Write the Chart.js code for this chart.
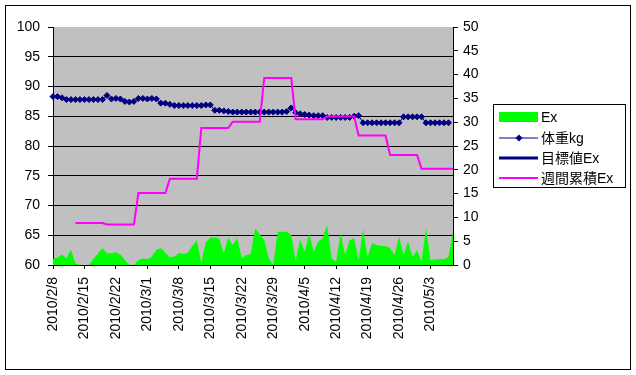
<!DOCTYPE html>
<html>
<head>
<meta charset="utf-8">
<script src="https://cdn.jsdelivr.net/npm/chart.js@4/dist/chart.umd.min.js"></script>
<style>
  body { margin: 0; background: #ffffff; }
  #wrap { width: 636px; height: 375px; }
</style>
</head>
<body>
<div id="wrap"><canvas id="weight-chart" width="636" height="375"></canvas></div>
<script>
//Dates (one point per day)
var dates = [
  "2010/2/8", "2010/2/9", "2010/2/10", "2010/2/11", "2010/2/12", "2010/2/13", "2010/2/14",
  "2010/2/15", "2010/2/16", "2010/2/17", "2010/2/18", "2010/2/19", "2010/2/20", "2010/2/21",
  "2010/2/22", "2010/2/23", "2010/2/24", "2010/2/25", "2010/2/26", "2010/2/27", "2010/2/28",
  "2010/3/1", "2010/3/2", "2010/3/3", "2010/3/4", "2010/3/5", "2010/3/6", "2010/3/7",
  "2010/3/8", "2010/3/9", "2010/3/10", "2010/3/11", "2010/3/12", "2010/3/13", "2010/3/14",
  "2010/3/15", "2010/3/16", "2010/3/17", "2010/3/18", "2010/3/19", "2010/3/20", "2010/3/21",
  "2010/3/22", "2010/3/23", "2010/3/24", "2010/3/25", "2010/3/26", "2010/3/27", "2010/3/28",
  "2010/3/29", "2010/3/30", "2010/3/31", "2010/4/1", "2010/4/2", "2010/4/3", "2010/4/4",
  "2010/4/5", "2010/4/6", "2010/4/7", "2010/4/8", "2010/4/9", "2010/4/10", "2010/4/11",
  "2010/4/12", "2010/4/13", "2010/4/14", "2010/4/15", "2010/4/16", "2010/4/17", "2010/4/18",
  "2010/4/19", "2010/4/20", "2010/4/21", "2010/4/22", "2010/4/23", "2010/4/24", "2010/4/25",
  "2010/4/26", "2010/4/27", "2010/4/28", "2010/4/29", "2010/4/30", "2010/5/1", "2010/5/2",
  "2010/5/3", "2010/5/4", "2010/5/5", "2010/5/6", "2010/5/7", "2010/5/8"
];

//Ex per day (right axis)
var exValues = [
  1.2, 1.6, 2.2, 1.4, 3.2, 0.3, 0, 0, 0, 1.3,
  2.4, 3.5, 2.5, 2.4, 2.7, 2.2, 1.0, 0, 0, 1.0,
  1.4, 1.2, 1.8, 3.2, 3.5, 2.6, 1.6, 1.8, 2.5, 2.3,
  2.6, 4.0, 5.2, 0.5, 4.8, 5.8, 5.8, 5.5, 2.5, 5.8,
  4.2, 5.6, 1.4, 2.1, 2.3, 7.7, 6.4, 5.3, 1.4, 0,
  7.0, 7.0, 7.0, 6.3, 1.0, 5.3, 2.8, 6.6, 2.8, 4.9,
  5.6, 8.4, 1.4, 0.7, 6.6, 2.1, 5.2, 5.6, 1.0, 7.5,
  1.7, 4.6, 4.2, 4.0, 4.0, 3.5, 2.1, 6.0, 2.1, 4.9,
  1.7, 3.1, 0.7, 7.7, 1.0, 1.2, 1.2, 1.2, 1.7, 7.0
];

//Weight kg (left axis)
var weightValues = [
  88.3, 88.3, 88.1, 87.8, 87.8, 87.8, 87.8, 87.8, 87.8, 87.8,
  87.8, 87.8, 88.5, 87.9, 88.0, 87.9, 87.5, 87.4, 87.5, 88.0,
  88.0, 87.9, 88.0, 87.9, 87.2, 87.2, 87.0, 86.8, 86.8, 86.8,
  86.8, 86.8, 86.8, 86.8, 86.9, 86.9, 86.0, 86.0, 85.9, 85.8,
  85.7, 85.7, 85.7, 85.7, 85.7, 85.7, 85.7, 85.7, 85.7, 85.7,
  85.7, 85.7, 85.8, 86.4, 85.6, 85.4, 85.3, 85.2, 85.1, 85.1,
  85.1, 84.8, 84.8, 84.8, 84.8, 84.8, 84.8, 85.0, 85.1, 83.9,
  83.9, 83.9, 83.9, 83.9, 83.9, 83.9, 83.9, 83.9, 84.9, 84.9,
  84.9, 84.9, 84.9, 83.9, 83.9, 83.9, 83.9, 83.9, 83.9, null
];

//Target Ex (no values shown in the chart)
var targetValues = [];

//Weekly accumulated Ex (right axis)
var weeklyValues = [
  null, null, null, null, null,
  8.8, 8.8, 8.8, 8.8, 8.8, 8.8, 8.8,
  8.5, 8.5, 8.5, 8.5, 8.5, 8.5, 8.5,
  15.1, 15.1, 15.1, 15.1, 15.1, 15.1, 15.1,
  18.1, 18.1, 18.1, 18.1, 18.1, 18.1, 18.1,
  28.8, 28.8, 28.8, 28.8, 28.8, 28.8, 28.8,
  30.1, 30.1, 30.1, 30.1, 30.1, 30.1, 30.1,
  39.3, 39.3, 39.3, 39.3, 39.3, 39.3, 39.3,
  30.6, 30.6, 30.6, 30.6, 30.6, 30.6, 30.6,
  31.2, 31.2, 31.2, 31.2, 31.2, 31.2, 31.2,
  27.2, 27.2, 27.2, 27.2, 27.2, 27.2, 27.2,
  23.1, 23.1, 23.1, 23.1, 23.1, 23.1, 23.1,
  20.2, 20.2, 20.2, 20.2, 20.2, 20.2, 20.2, 20.2
];

var fontFamily = "'Liberation Sans', Arial, 'Noto Sans CJK JP', sans-serif";

//Frame, gray plot area and boxed legend
var framePlugin = {
  id: 'frame',
  beforeDraw: function(chart) {
    var ctx = chart.ctx;
    var a = chart.chartArea;
    ctx.save();
    ctx.fillStyle = "#ffffff";
    ctx.fillRect(0, 0, chart.width, chart.height);
    ctx.strokeStyle = "#000000";
    ctx.lineWidth = 1;
    ctx.strokeRect(5.5, 5.5, 625, 364);
    ctx.fillStyle = "#c0c0c0";
    ctx.fillRect(a.left, a.top, a.right - a.left, a.bottom - a.top);
    ctx.restore();
  },
  afterDraw: function(chart) {
    var ctx = chart.ctx;
    var ds = chart.data.datasets;
    var rows = [117, 138, 158, 178];
    ctx.save();
    ctx.fillStyle = "#ffffff";
    ctx.fillRect(493, 104, 132, 83);
    ctx.strokeStyle = "#000000";
    ctx.lineWidth = 1;
    ctx.strokeRect(493.5, 104.5, 132, 83);
    for (var i = 0; i < ds.length; i++) {
      var y = rows[i];
      if (ds[i].fill) {
        ctx.fillStyle = ds[i].backgroundColor;
        ctx.fillRect(499, y - 5, 39, 10);
      } else {
        ctx.strokeStyle = ds[i].borderColor;
        ctx.lineWidth = ds[i].borderWidth;
        ctx.beginPath();
        ctx.moveTo(499, y);
        ctx.lineTo(538, y);
        ctx.stroke();
        if (ds[i].pointRadius > 0) {
          ctx.fillStyle = ds[i].borderColor;
          ctx.beginPath();
          ctx.moveTo(519, y - 3.5);
          ctx.lineTo(522.5, y);
          ctx.lineTo(519, y + 3.5);
          ctx.lineTo(515.5, y);
          ctx.closePath();
          ctx.fill();
        }
      }
      ctx.fillStyle = "#000000";
      ctx.font = "14px " + fontFamily;
      ctx.textBaseline = "middle";
      ctx.textAlign = "left";
      ctx.fillText(ds[i].label, 541, y + 1);
    }
    ctx.restore();
  }
};

var weightChart = new Chart(document.getElementById("weight-chart"), {
  type: 'line',
  data: {
    labels: dates,
    datasets: [{
      label: 'Ex',
      data: exValues,
      yAxisID: 'yEx',
      fill: 'origin',
      backgroundColor: "#00ff00",
      borderColor: "#00ff00",
      borderWidth: 0,
      pointRadius: 0,
      order: 4
    }, {
      label: '体重kg',
      data: weightValues,
      yAxisID: 'y',
      fill: false,
      borderColor: "#000080",
      backgroundColor: "#000080",
      borderWidth: 1,
      pointStyle: 'rectRot',
      pointRadius: 3,
      order: 3
    }, {
      label: '目標値Ex',
      data: targetValues,
      yAxisID: 'yEx',
      fill: false,
      borderColor: "#000080",
      borderWidth: 3,
      pointRadius: 0,
      order: 2
    }, {
      label: '週間累積Ex',
      data: weeklyValues,
      yAxisID: 'yEx',
      fill: false,
      borderColor: "#ff00ff",
      borderWidth: 2,
      pointRadius: 0,
      order: 1
    }]
  },
  options: {
    responsive: false,
    animation: false,
    layout: {
      padding: { top: 27, left: 0, right: 0, bottom: 0 }
    },
    plugins: {
      legend: { display: false },
      tooltip: { enabled: false }
    },
    scales: {
      x: {
        offset: false,
        afterFit: function(scale) { scale.height = 110; },
        grid: {
          drawOnChartArea: false,
          tickLength: 4,
          color: function(c) { return c.index % 7 === 0 ? "#000000" : "rgba(0,0,0,0)"; }
        },
        border: { color: "#000000" },
        ticks: {
          autoSkip: false,
          minRotation: 90,
          maxRotation: 90,
          padding: 8,
          color: "#000000",
          font: { family: fontFamily, size: 14 },
          callback: function(value, index) {
            return index % 7 === 0 ? this.getLabelForValue(value) : '';
          }
        }
      },
      y: {
        position: 'left',
        min: 60,
        max: 100,
        afterFit: function(scale) { scale.width = 53; },
        grid: {
          tickLength: 5,
          tickColor: "#000000",
          color: function(c) { return c.tick && c.tick.value === 100 ? "rgba(0,0,0,0)" : "#000000"; }
        },
        border: { color: "#000000" },
        ticks: {
          stepSize: 5,
          padding: 8,
          color: "#000000",
          font: { family: fontFamily, size: 14 }
        }
      },
      yEx: {
        position: 'right',
        min: 0,
        max: 50,
        afterFit: function(scale) { scale.width = 183; },
        grid: {
          drawOnChartArea: false,
          tickLength: 5,
          color: "#000000"
        },
        border: { color: "#000000" },
        ticks: {
          stepSize: 5,
          padding: 5,
          color: "#000000",
          font: { family: fontFamily, size: 14 }
        }
      }
    }
  },
  plugins: [framePlugin]
});
</script>
</body>
</html>
